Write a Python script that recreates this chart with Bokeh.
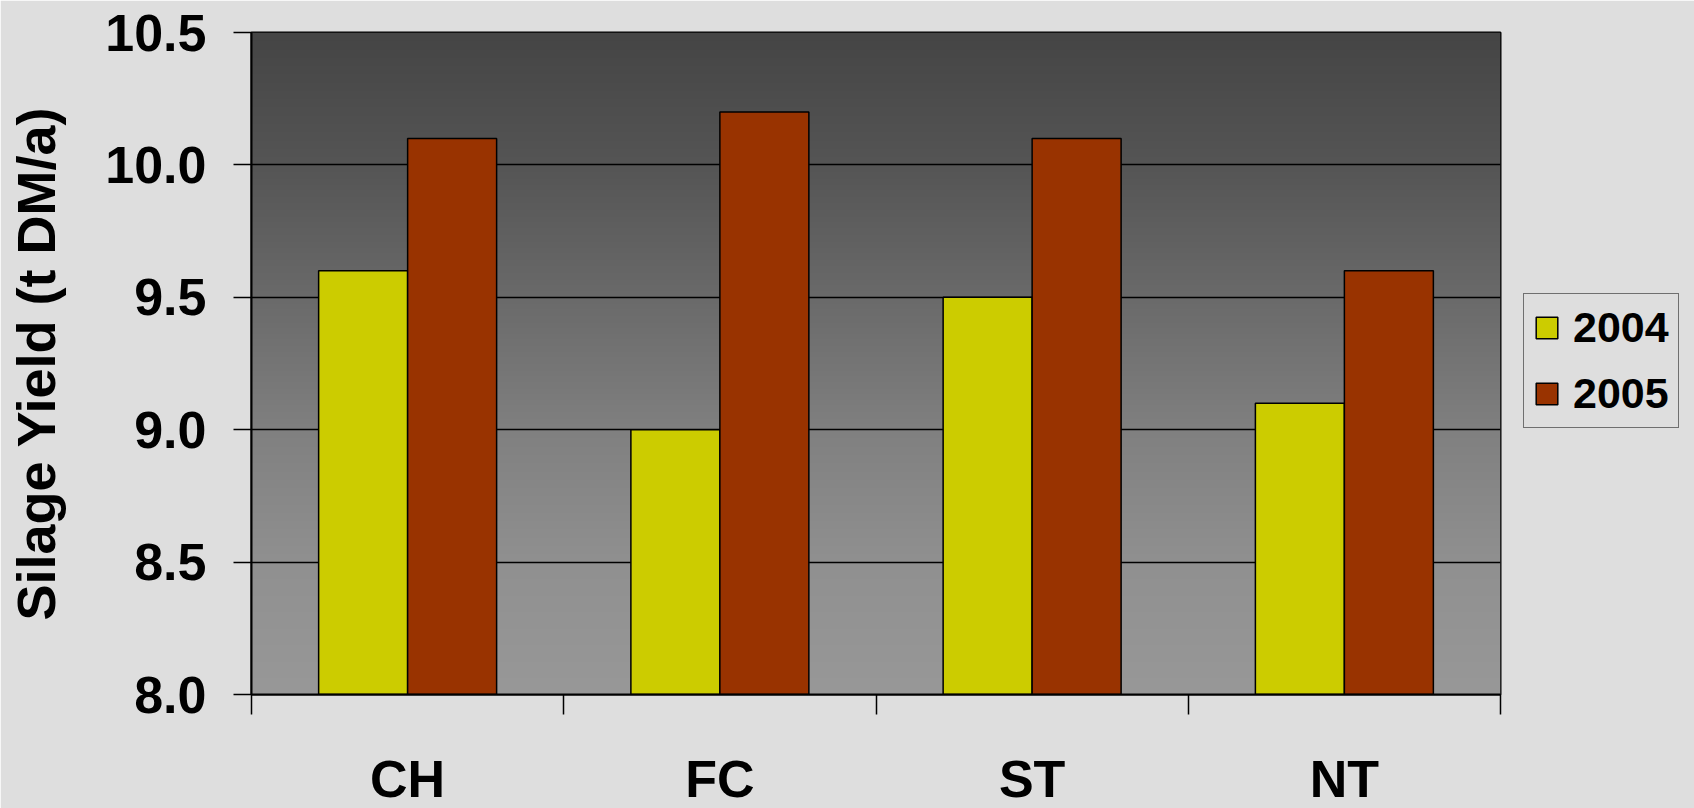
import numpy as np
from bokeh.plotting import figure
from bokeh.models import (Range1d, FixedTicker, PrintfTickFormatter, Legend, LegendItem,
                          ColumnDataSource)
from bokeh.transform import dodge
from bokeh.embed import file_html
from bokeh.resources import INLINE

categories = ["CH", "FC", "ST", "NT"]
series_names = ["2004", "2005"]
yield_2004 = [9.6, 9.0, 9.5, 9.1]
yield_2005 = [10.1, 10.2, 10.1, 9.6]
y_ticks = [8.0, 8.5, 9.0, 9.5, 10.0, 10.5]

FONT = "Liberation Sans"
BG = "#dedede"

n = len(categories)
centers = [i + 0.5 for i in range(n)]
src = ColumnDataSource(dict(x=centers, cat=categories, y04=yield_2004, y05=yield_2005))

p = figure(frame_width=1249, frame_height=662, output_backend="svg", toolbar_location=None,
           x_range=Range1d(0, n), y_range=Range1d(y_ticks[0], y_ticks[-1]),
           min_border_left=251, min_border_right=194, min_border_top=32, min_border_bottom=114)
p.border_fill_color = BG
p.background_fill_color = "#777777"
p.outline_line_color = "black"
p.outline_line_width = 2

# vertical gradient background of the plot area
rows = 400
t = np.linspace(0.0, 1.0, rows)  # 0 bottom -> 1 top
stops_t = [0.0, 0.2, 0.4, 0.6, 0.8, 1.0]
stops_v = [0x98, 0x90, 0x80, 0x6a, 0x55, 0x45]
v = np.interp(t, stops_t, stops_v).astype(np.uint32)
img = (0xFF << 24) | (v << 16) | (v << 8) | v
img = img.reshape(rows, 1).astype(np.uint32)
bg = p.image_rgba(image=[img], x=0, y=y_ticks[0], dw=n, dh=y_ticks[-1] - y_ticks[0])
bg.level = "image"

bw = 0.285
r1 = p.vbar(x=dodge("x", -bw / 2, range=p.x_range), top="y04", bottom=y_ticks[0], width=bw,
            source=src, fill_color="#cccc00", line_color="black", line_width=1.5)
r2 = p.vbar(x=dodge("x", bw / 2, range=p.x_range), top="y05", bottom=y_ticks[0], width=bw,
            source=src, fill_color="#993300", line_color="black", line_width=1.5)

# grid
p.xgrid.visible = False
p.ygrid.ticker = FixedTicker(ticks=y_ticks)
p.ygrid.grid_line_color = "black"
p.ygrid.grid_line_width = 1.5
p.ygrid.level = "underlay"

# y axis
ya = p.yaxis[0]
ya.ticker = FixedTicker(ticks=y_ticks)
ya.formatter = PrintfTickFormatter(format="%.1f")
ya.axis_line_color = "black"
ya.axis_line_width = 2
ya.major_tick_out = 18
ya.major_tick_in = 0
ya.major_tick_line_width = 1.5
ya.minor_tick_line_color = None
ya.major_label_text_font = FONT
ya.major_label_text_font_size = "52px"
ya.major_label_text_font_style = "bold"
ya.major_label_text_color = "black"
ya.major_label_standoff = 27
ya.axis_label = "Silage Yield (t DM/a)"
ya.axis_label_text_font = FONT
ya.axis_label_text_font_size = "54px"
ya.axis_label_text_font_style = "bold"
ya.axis_label_text_color = "black"
ya.axis_label_standoff = 36

# x axis: labels at group centres, tick marks at group boundaries
xa = p.xaxis[0]
xa.ticker = FixedTicker(ticks=centers, minor_ticks=list(range(n + 1)))
xa.major_label_overrides = {c: name for c, name in zip(centers, categories)}
xa.axis_line_color = "black"
xa.axis_line_width = 2
xa.major_tick_out = 0
xa.major_tick_in = 0
xa.major_tick_line_color = None
xa.minor_tick_out = 20
xa.minor_tick_in = 0
xa.minor_tick_line_color = "black"
xa.minor_tick_line_width = 1.5
xa.major_label_text_font = FONT
xa.major_label_text_font_size = "52px"
xa.major_label_text_font_style = "bold"
xa.major_label_text_color = "black"
xa.major_label_standoff = 35

legend = Legend(items=[LegendItem(label=series_names[0], renderers=[r1]),
                       LegendItem(label=series_names[1], renderers=[r2])],
                location=(23, 266), orientation="vertical")
legend.border_line_color = "black"
legend.border_line_width = 1.5
legend.background_fill_alpha = 0
legend.label_text_font = FONT
legend.label_text_font_size = "43px"
legend.label_text_font_style = "bold"
legend.label_text_color = "black"
legend.glyph_width = 27
legend.glyph_height = 27
legend.label_standoff = 13
legend.spacing = 17
legend.padding = 9
legend.margin = 0
p.add_layout(legend, "right")

open("out.html", "w").write(file_html(p, INLINE))
